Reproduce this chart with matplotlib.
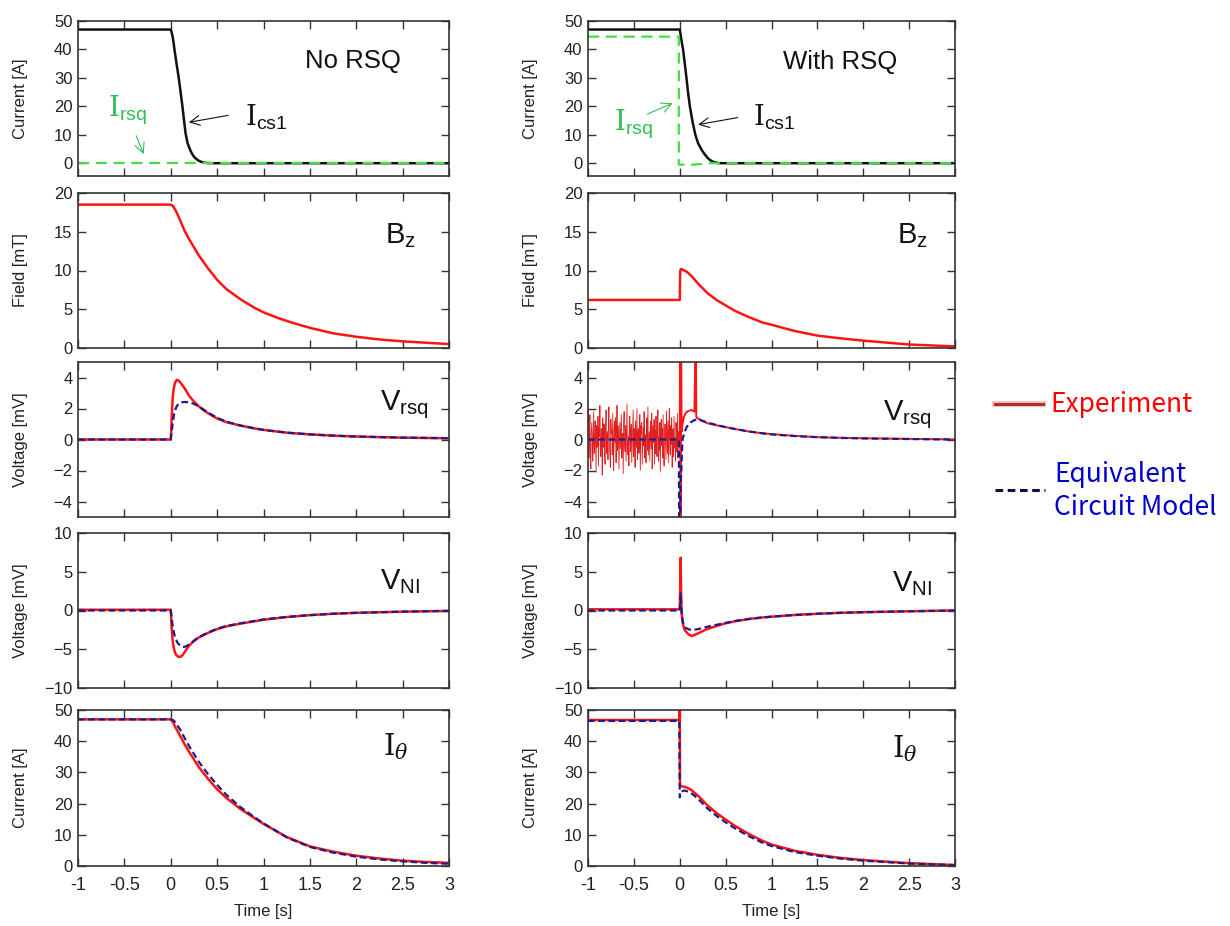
import numpy as np
import matplotlib.pyplot as plt
from matplotlib.lines import Line2D
import matplotlib.patheffects as pe

plt.rcParams['font.family'] = ['Liberation Sans', 'DejaVu Sans']
plt.rcParams['mathtext.fontset'] = 'custom'
plt.rcParams['mathtext.rm'] = 'DejaVu Serif'
plt.rcParams['mathtext.sf'] = 'Liberation Sans'
plt.rcParams['mathtext.it'] = 'DejaVu Serif:italic'

# ---- data ----
xticks = [-1, -0.5, 0, 0.5, 1, 1.5, 2, 2.5, 3]
xtick_labels = ['-1', '-0.5', '0', '0.5', '1', '1.5', '2', '2.5', '3']

# row 1 : coil currents
t_cs1_L = [-1, 0, 0.01, 0.02, 0.03, 0.04, 0.06, 0.086, 0.106, 0.126, 0.145, 0.16, 0.18,
           0.21, 0.23, 0.25, 0.275, 0.3, 0.33, 0.36, 0.4, 0.45, 3]
i_cs1_L = [47, 47, 46, 44.5, 42.5, 40, 35.5, 30, 25, 20, 14.5, 10.5, 7.2,
           4.6, 3.3, 2.3, 1.5, 0.9, 0.45, 0.2, 0.05, 0, 0]
t_rsq_L = [-1, 3]
i_rsq_L = [0, 0]
t_cs1_R = [-1, 0, 0.008, 0.015, 0.025, 0.036, 0.055, 0.073, 0.09, 0.11, 0.14, 0.17, 0.2,
           0.24, 0.27, 0.3, 0.33, 0.37, 0.41, 0.45, 3]
i_cs1_R = [47, 47, 45.5, 44, 42, 40, 35, 30, 25, 20, 14.5, 10, 7,
           4.6, 3.2, 2, 1.1, 0.4, 0.1, 0, 0]
t_rsq_R = [-1, -0.01, -0.01, 0.15, 0.22, 0.3, 3]
i_rsq_R = [44.5, 44.5, -0.5, -0.5, -0.3, 0, 0]

# row 2 : Bz
t_bz_L = [-1, 0, 0.025, 0.05, 0.075, 0.1, 0.15, 0.2, 0.25, 0.3, 0.4, 0.5, 0.6, 0.75, 0.9,
          1, 1.15, 1.3, 1.5, 1.75, 2, 2.25, 2.5, 2.75, 3]
bz_L = [18.5, 18.5, 18.3, 17.8, 17.2, 16.5, 15.1, 14.0, 13.0, 12.0, 10.3, 8.8, 7.6, 6.3, 5.2,
        4.6, 3.9, 3.3, 2.6, 1.9, 1.45, 1.1, 0.86, 0.68, 0.5]
t_bz_R = [-1, 0, 0.005, 0.015, 0.03, 0.05, 0.075, 0.1, 0.15, 0.2, 0.25, 0.3, 0.4, 0.5, 0.6,
          0.75, 0.9, 1, 1.25, 1.5, 1.75, 2, 2.5, 3]
bz_R = [6.2, 6.2, 10.0, 10.2, 10.1, 10.0, 9.85, 9.6, 9.0, 8.3, 7.7, 7.1, 6.2, 5.5, 4.8,
        4.0, 3.3, 3.0, 2.2, 1.6, 1.25, 0.95, 0.45, 0.2]

# row 3 : Vrsq
t_vrsq_exp_L = [-1, 0, 0.005, 0.01, 0.02, 0.03, 0.045, 0.065, 0.085, 0.1, 0.12, 0.15, 0.18,
                0.2, 0.25, 0.3, 0.35, 0.4, 0.5, 0.6, 0.75, 0.9, 1, 1.25, 1.5, 1.75, 2, 2.5, 3]
vrsq_exp_L = [0, 0, 0.6, 1.4, 2.6, 3.2, 3.65, 3.85, 3.8, 3.7, 3.55, 3.3, 3.0,
              2.8, 2.45, 2.15, 1.9, 1.7, 1.35, 1.12, 0.9, 0.72, 0.62, 0.44, 0.33, 0.25, 0.19, 0.12, 0.08]
t_vrsq_mod_L = [-1, 0, 0.01, 0.02, 0.035, 0.05, 0.07, 0.09, 0.12, 0.15, 0.2, 0.25, 0.3, 0.4,
                0.5, 0.6, 0.75, 0.9, 1, 1.25, 1.5, 1.75, 2, 2.5, 3]
vrsq_mod_L = [0, 0, 0.5, 1.0, 1.6, 1.95, 2.2, 2.32, 2.4, 2.42, 2.4, 2.3, 2.15, 1.75,
              1.4, 1.15, 0.9, 0.72, 0.62, 0.44, 0.33, 0.25, 0.19, 0.12, 0.08]

# measured noise before the switch (right panel)
vrsq_noise_R = [0.3, 2.1, -1.2, 0.6, 1.6, -0.8, -1.9, 0.5, 1.1, 0.4, -1.4, -0.3, 1.8, -0.9,
                -0.6, 1.2, 0.2, -2.1, 0.9, -0.5, -0.3, 1.5, -1.7, 0.8, 0.2, 2.2, -0.6, -1.1,
                0.7, -0.2, -2.3, 1.4, 0.3, -0.5, 1.0, -1.2, -1.6, 0.7, 1.9, -0.9, 0.2, 0.5,
                -1.3, 1.1, 2.1, -0.4, -0.9, -1.8, 1.3, 0.4, 0.6, -1.0, 1.7, -0.6, -2.0, 0.8,
                1.2, -0.2, 1.4, -1.5, 0.1, 2.2, -0.7, 0.9, 0.3, -1.9, -0.4, 1.1, -0.6, 0.5,
                1.6, -1.2, -0.1, 0.4, -2.2, 1.0, 1.8, -0.3, -0.8, 0.9, -1.4, 0.6, 2.3, -1.0,
                -0.5, 0.2, -1.7, 1.2, 1.5, -0.8, 0.3, 1.0, -1.5, -0.4, 0.6, 1.9, -1.1, 0.7,
                0.1, -1.8, 1.2, 0.2, -0.5, 2.0, -1.3, 0.4, 0.7, -0.9, -0.2, 1.6, -2.0, 0.9,
                0.4, 1.1, -1.6, -0.3, 0.8, -0.4, 1.8, -1.2, -0.6, 0.3, -1.5, 1.0, 1.4, -0.7,
                2.1, -1.0, -0.2, 0.5, -1.4, 0.8, 1.2, -0.6, 1.7, -1.9, 0.3, 0.9, -0.2, 1.3,
                -1.6, 0.6, -0.9, 1.5, -0.3, -1.1, 0.8, 1.9, -1.4, 0.2, -0.7, 1.1, -2.1, 0.5,
                1.3, -0.4, 0.7, -1.2, 1.6, -0.8, -1.7, 0.4, 1.0, -0.1, -1.3, 1.8, 0.2, -0.9,
                1.2, -1.5, 0.6, 2.0, -0.6, -1.0, 0.9, -0.3, 1.4, -1.8, 0.3, 0.7, -1.1, 1.5,
                -0.5, 0.1, -1.4, 1.1, 0.4, -0.8, 1.7, -1.2, 0.5, -0.2]
t_vrsq_exp_R = [0, 0.005, 0.01, 0.015, 0.02, 0.03, 0.045, 0.06, 0.08, 0.1, 0.13, 0.16, 0.175,
                0.18, 0.185, 0.2, 0.25, 0.3, 0.4, 0.5, 0.6, 0.75, 0.9, 1, 1.25, 1.5, 1.75, 2,
                2.5, 3]
vrsq_exp_R = [0, 8, -8, 8, 0.5, 1.0, 1.45, 1.65, 1.8, 1.85, 1.9, 1.8, 8,
              1.5, 1.4, 1.35, 1.2, 1.05, 0.92, 0.8, 0.68, 0.52, 0.4, 0.35, 0.24, 0.15, 0.11, 0.08,
              0.04, 0.0]
t_vrsq_mod_R = [-1, -0.01, -0.005, 0.01, 0.03, 0.05, 0.075, 0.1, 0.13, 0.16, 0.2, 0.25, 0.3,
                0.4, 0.5, 0.6, 0.75, 0.9, 1, 1.25, 1.5, 1.75, 2, 2.5, 3]
vrsq_mod_R = [0, 0, -8, -3, 0, 0.45, 0.8, 1.0, 1.15, 1.25, 1.3, 1.2, 1.1,
              0.93, 0.8, 0.68, 0.52, 0.4, 0.33, 0.22, 0.15, 0.1, 0.07, 0.03, 0]

# row 4 : VNI
t_vni_exp_L = [-1, 0, 0.005, 0.01, 0.02, 0.03, 0.045, 0.06, 0.08, 0.1, 0.12, 0.14, 0.17, 0.2,
               0.25, 0.3, 0.4, 0.5, 0.6, 0.75, 0.9, 1, 1.25, 1.5, 1.75, 2, 2.5, 3]
vni_exp_L = [0.1, 0.1, -1.0, -2.3, -3.8, -4.7, -5.4, -5.75, -5.95, -6.0, -5.85, -5.55, -5.0, -4.5,
             -3.95, -3.5, -2.9, -2.4, -2.05, -1.7, -1.4, -1.2, -0.85, -0.6, -0.42, -0.3, -0.15, -0.05]
t_vni_mod_L = [-1, 0, 0.01, 0.02, 0.035, 0.05, 0.075, 0.1, 0.12, 0.14, 0.17, 0.2, 0.25, 0.3,
               0.4, 0.5, 0.6, 0.75, 0.9, 1, 1.25, 1.5, 1.75, 2, 2.5, 3]
vni_mod_L = [0, 0, -1.0, -1.9, -2.9, -3.6, -4.2, -4.5, -4.65, -4.7, -4.6, -4.35, -3.9, -3.45,
             -2.85, -2.35, -2.0, -1.65, -1.35, -1.15, -0.82, -0.6, -0.42, -0.3, -0.15, -0.05]
t_vni_exp_R = [-1, 0, 0.005, 0.01, 0.015, 0.02, 0.03, 0.045, 0.06, 0.08, 0.1, 0.13, 0.16, 0.2,
               0.25, 0.3, 0.4, 0.5, 0.6, 0.75, 0.9, 1, 1.25, 1.5, 1.75, 2, 2.5, 3]
vni_exp_R = [0.15, 0.15, 3.0, 6.8, 2.0, -0.3, -1.5, -2.2, -2.6, -2.9, -3.1, -3.3, -3.15, -2.95,
             -2.65, -2.4, -2.0, -1.65, -1.4, -1.1, -0.9, -0.8, -0.58, -0.42, -0.3, -0.22, -0.1, 0]
t_vni_mod_R = [-1, 0, 0.005, 0.01, 0.018, 0.025, 0.04, 0.06, 0.1, 0.15, 0.2, 0.3, 0.4, 0.5,
               0.6, 0.75, 0.9, 1, 1.25, 1.5, 1.75, 2, 2.5, 3]
vni_mod_R = [0, 0, 1.2, 2.2, 0.3, -0.8, -1.7, -2.2, -2.45, -2.5, -2.4, -2.1, -1.85, -1.6,
             -1.35, -1.1, -0.9, -0.8, -0.58, -0.42, -0.3, -0.22, -0.1, 0]

# row 5 : I theta
t_ith_L = [-1, 0, 0.025, 0.05, 0.1, 0.15, 0.2, 0.3, 0.4, 0.5, 0.6, 0.75, 0.9, 1,
           1.25, 1.5, 1.75, 2, 2.25, 2.5, 2.75, 3]
ith_exp_L = [47, 47, 46, 44.5, 41.8, 39, 36.5, 31.8, 28, 24.6, 21.8, 18.3, 15.4, 13.5,
             9.3, 6.3, 4.6, 3.3, 2.4, 1.7, 1.3, 1.0]
ith_mod_L = [47, 47, 46.8, 46, 43.8, 41, 38.3, 33.5, 29.5, 26, 22.8, 18.9, 15.7, 13.7,
             9.2, 6.1, 4.3, 3.0, 2.1, 1.5, 1.0, 0.7]
t_ith_exp_R = [-1, -0.005, 0, 0.003, 0.01, 0.03, 0.06, 0.1, 0.13, 0.16, 0.2, 0.25, 0.3, 0.4,
               0.5, 0.6, 0.75, 0.9, 1, 1.25, 1.5, 1.75, 2, 2.5, 3]
ith_exp_R = [46.8, 46.8, 50, 25.8, 25.6, 25.5, 25.3, 24.8, 24.3, 23.5, 22.5, 21.0, 19.5, 17.0,
             14.9, 12.9, 10.3, 8.1, 6.9, 4.9, 3.6, 2.6, 1.9, 0.9, 0.3]
t_ith_mod_R = [-1, -0.005, 0, 0.01, 0.03, 0.05, 0.1, 0.15, 0.2, 0.25, 0.3, 0.4, 0.5, 0.6,
               0.75, 0.9, 1, 1.25, 1.5, 1.75, 2, 2.5, 3]
ith_mod_R = [46.5, 46.5, 22, 23.3, 24.0, 24.2, 23.8, 22.8, 21.5, 20.0, 18.5, 16.1, 14.0, 12.1,
             9.6, 7.5, 6.4, 4.5, 3.3, 2.4, 1.7, 0.8, 0.3]

# ---- styles ----
RED = '#ff1414'
NAVY = '#1c1c8c'
GREEN = '#44dd44'
GREEN_TXT = '#2fbf50'
MODEL_LS = (0, (3, 1.6))

W, H = 1230, 926
fig = plt.figure(figsize=(W / 100, H / 100), dpi=100)

cols = [(78, 371), (588, 367)]
rows = [(21, 176), (193, 348), (362, 517), (533, 688), (710, 866)]
ylims = [(-4.5, 50), (0, 20), (-5, 5), (-10, 10), (0, 50)]
yticks = [[0, 10, 20, 30, 40, 50], [0, 5, 10, 15, 20], [-4, -2, 0, 2, 4],
          [-10, -5, 0, 5, 10], [0, 10, 20, 30, 40, 50]]
ylabels = ['Current [A]', 'Field [mT]', 'Voltage [mV]', 'Voltage [mV]', 'Current [A]']

axes = [[None] * 5 for _ in range(2)]
for c, (x0, w) in enumerate(cols):
    for r, (top, bot) in enumerate(rows):
        ax = fig.add_axes([x0 / W, 1 - bot / H, w / W, (bot - top) / H])
        ax.set_xlim(-1, 3)
        ax.set_ylim(*ylims[r])
        ax.set_yticks(yticks[r])
        ax.set_xticks(xticks)
        ax.tick_params(direction='in', length=6, width=1, top=True, right=True,
                       color='#333333', labelcolor='#222222')
        ax.tick_params(axis='y', labelsize=12, pad=4)
        ax.tick_params(axis='x', labelsize=13, pad=8)
        for s in ax.spines.values():
            s.set_color('#333333')
            s.set_linewidth(1.2)
        ax.set_ylabel(ylabels[r], fontsize=12, color='#222222')
        ax.yaxis.set_label_coords(-0.135, 0.5)
        if r == 4:
            ax.set_xticklabels(xtick_labels)
            ax.set_xlabel('Time [s]', fontsize=12, color='#222222', labelpad=7)
        else:
            ax.set_xticklabels([])
        axes[c][r] = ax

lab_kw = dict(fontsize=21, ha='left', va='baseline', color='#111111')

# row 1
for c, (tc, ic, tr, ir) in enumerate([(t_cs1_L, i_cs1_L, t_rsq_L, i_rsq_L),
                                       (t_cs1_R, i_cs1_R, t_rsq_R, i_rsq_R)]):
    ax = axes[c][0]
    ax.plot(tc, ic, color='#111111', lw=1.8)
    ax.plot(tr, ir, color=GREEN, lw=1.6, ls=(0, (5, 3)))

arrow_k = dict(arrowstyle='->,head_length=0.7,head_width=0.35', color='#111111', lw=0.8)
arrow_g = dict(arrowstyle='->,head_length=0.7,head_width=0.35', color=GREEN_TXT, lw=0.8)

ax = axes[0][0]
ax.text(1.96, 36, 'No RSQ', fontsize=18.5, ha='center', va='center', color='#111111')
ax.annotate('', xy=(0.165, 14.2), xytext=(0.65, 17), arrowprops=arrow_k)
ax.text(0.80, 16, r'$\mathrm{I}_{\mathsf{cs1}}$', fontsize=20, ha='left', va='center', color='#111111')
ax.text(-0.68, 18.5, r'$\mathrm{I}_{\mathsf{rsq}}$', fontsize=20, ha='left', va='center', color=GREEN_TXT)
ax.annotate('', xy=(-0.28, 2.3), xytext=(-0.385, 10.6), arrowprops=arrow_g)

ax = axes[1][0]
ax.text(1.75, 35.5, 'With RSQ', fontsize=18.5, ha='center', va='center', color='#111111')
ax.annotate('', xy=(0.17, 13.4), xytext=(0.66, 16.2), arrowprops=arrow_k)
ax.text(0.80, 16.2, r'$\mathrm{I}_{\mathsf{cs1}}$', fontsize=20, ha='left', va='center', color='#111111')
ax.text(-0.72, 13.6, r'$\mathrm{I}_{\mathsf{rsq}}$', fontsize=20, ha='left', va='center', color=GREEN_TXT)
ax.annotate('', xy=(-0.05, 21.5), xytext=(-0.38, 16.9), arrowprops=arrow_g)

# row 2
axes[0][1].plot(t_bz_L, bz_L, color=RED, lw=1.8)
axes[1][1].plot(t_bz_R, bz_R, color=RED, lw=1.8)
axes[0][1].text(2.31, 13.5, r'$\mathsf{B}_{\mathsf{z}}$', **lab_kw)
axes[1][1].text(2.37, 13.5, r'$\mathsf{B}_{\mathsf{z}}$', **lab_kw)

# row 3
ax = axes[0][2]
ax.plot(t_vrsq_exp_L, vrsq_exp_L, color=RED, lw=1.8)
ax.plot(t_vrsq_mod_L, vrsq_mod_L, color=NAVY, lw=1.6, ls=MODEL_LS)
ax.text(2.26, 1.86, r'$\mathsf{V}_{\mathsf{rsq}}$', **lab_kw)
ax = axes[1][2]
t_noise = np.linspace(-1, -0.01, len(vrsq_noise_R))
ax.plot(t_noise, vrsq_noise_R, color='#e02020', lw=0.6)
ax.plot(t_vrsq_exp_R, vrsq_exp_R, color=RED, lw=1.4)
ax.plot(t_vrsq_mod_R, vrsq_mod_R, color=NAVY, lw=1.6, ls=MODEL_LS)
ax.text(2.21, 1.24, r'$\mathsf{V}_{\mathsf{rsq}}$', **lab_kw)

# row 4
ax = axes[0][3]
ax.plot(t_vni_exp_L, vni_exp_L, color=RED, lw=1.8)
ax.plot(t_vni_mod_L, vni_mod_L, color=NAVY, lw=1.6, ls=MODEL_LS)
ax.text(2.26, 2.8, r'$\mathsf{V}_{\mathsf{NI}}$', **lab_kw)
ax = axes[1][3]
ax.plot(t_vni_exp_R, vni_exp_R, color=RED, lw=1.8)
ax.plot(t_vni_mod_R, vni_mod_R, color=NAVY, lw=1.6, ls=MODEL_LS)
ax.text(2.31, 2.46, r'$\mathsf{V}_{\mathsf{NI}}$', **lab_kw)

# row 5
ax = axes[0][4]
ax.plot(t_ith_L, ith_exp_L, color=RED, lw=1.8)
ax.plot(t_ith_L, ith_mod_L, color=NAVY, lw=1.6, ls=MODEL_LS)
ax.text(2.29, 35.5, r'$\mathrm{I}_{\theta}$', **lab_kw)
ax = axes[1][4]
ax.plot(t_ith_exp_R, ith_exp_R, color=RED, lw=1.8)
ax.plot(t_ith_mod_R, ith_mod_R, color=NAVY, lw=1.6, ls=MODEL_LS)
ax.text(2.31, 34.9, r'$\mathrm{I}_{\theta}$', **lab_kw)

# legend at the right
leg_font = ['Noto Sans CJK JP', 'DejaVu Sans']
l1 = Line2D([995 / W, 1043 / W], [1 - 404 / H] * 2, transform=fig.transFigure,
            color='#a83232', lw=2.2,
            path_effects=[pe.Stroke(linewidth=4.5, foreground='#f2c0c0'), pe.Normal()])
l2 = Line2D([995 / W, 1045 / W], [1 - 490 / H] * 2, transform=fig.transFigure,
            color='#101040', lw=2.2, ls=(0, (2.5, 1.5)))
fig.add_artist(l1)
fig.add_artist(l2)
fig.text(1050 / W, 1 - 404 / H, 'Experiment', color='#ff0000', fontsize=19,
         va='center', ha='left', family=leg_font)
fig.text(1054 / W, 1 - 491 / H, 'Equivalent\nCircuit Model', color='#0000cc', fontsize=19,
         va='center', ha='left', family=leg_font, linespacing=1.3)

fig.savefig('out.png', dpi=100)
